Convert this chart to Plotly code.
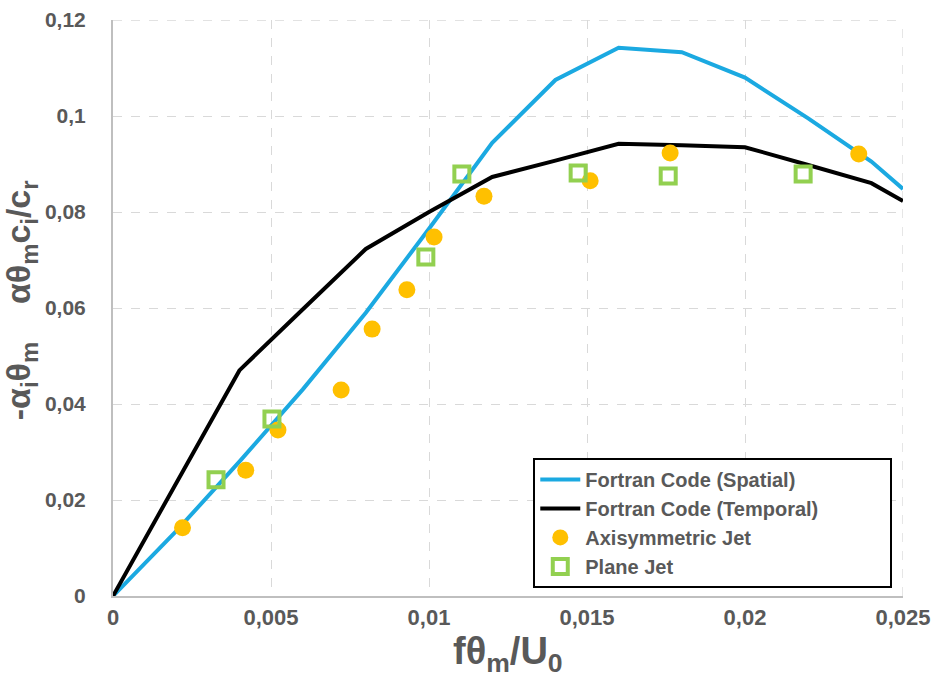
import plotly.graph_objects as go

# Fortran code (spatial)
spatial_x = [0, 0.002, 0.004, 0.006, 0.008, 0.010, 0.012, 0.014, 0.016, 0.018, 0.020, 0.022, 0.024, 0.025]
spatial_y = [0, 0.0135, 0.028, 0.043, 0.059, 0.0765, 0.0944, 0.1075, 0.1142, 0.1133, 0.108, 0.0995, 0.0905, 0.0848]

# Fortran code (temporal)
temporal_x = [0, 0.004, 0.006, 0.008, 0.010, 0.012, 0.014, 0.016, 0.018, 0.020, 0.022, 0.024, 0.025]
temporal_y = [0, 0.047, 0.0597, 0.0723, 0.0800, 0.0873, 0.0907, 0.0942, 0.0939, 0.0935, 0.0898, 0.0860, 0.0823]

# Axisymmetric jet
axi_x = [0.0022, 0.0042, 0.00522, 0.00722, 0.0082, 0.0093, 0.01016, 0.01174, 0.0151, 0.01763, 0.0236]
axi_y = [0.0142, 0.0262, 0.0346, 0.0429, 0.0556, 0.0638, 0.0748, 0.0833, 0.0865, 0.0923, 0.0921]

# Plane jet
plane_x = [0.00326, 0.00503, 0.0099, 0.01104, 0.01472, 0.01757, 0.02184]
plane_y = [0.0242, 0.0369, 0.0706, 0.0879, 0.0881, 0.0875, 0.0879]

series_names = ["Fortran Code (Spatial)", "Fortran Code (Temporal)", "Axisymmetric Jet", "Plane Jet"]

x_tickvals = [0, 0.005, 0.01, 0.015, 0.02, 0.025]
x_ticktext = ["0", "0,005", "0,01", "0,015", "0,02", "0,025"]
y_tickvals = [0, 0.02, 0.04, 0.06, 0.08, 0.1, 0.12]
y_ticktext = ["0", "0,02", "0,04", "0,06", "0,08", "0,1", "0,12"]

x_title = "fθ<sub>m</sub>/U<sub>0</sub>"
y_title = "-α<sub>i</sub>θ<sub>m</sub>    αθ<sub>m</sub>c<sub>i</sub>/c<sub>r</sub>"

GRAY = "#595959"
FONT = "Liberation Sans, Arial, sans-serif"
NARROW = "Liberation Sans Narrow, Arial Narrow, Liberation Sans, sans-serif"
PAD = "\u00a0" * 12


def b(s):
    return "<b>" + s + "</b>"


fig = go.Figure()
fig.add_trace(go.Scatter(x=spatial_x, y=spatial_y, mode="lines", name=b(series_names[0]),
                         line=dict(color="#1BA9E1", width=4)))
fig.add_trace(go.Scatter(x=temporal_x, y=temporal_y, mode="lines", name=b(series_names[1]) + PAD,
                         line=dict(color="#000000", width=4)))
fig.add_trace(go.Scatter(x=axi_x, y=axi_y, mode="markers", name=b(series_names[2]),
                         marker=dict(symbol="circle", size=17, color="#FFC000", line=dict(width=0))))
fig.add_trace(go.Scatter(x=plane_x, y=plane_y, mode="markers", name=b(series_names[3]),
                         marker=dict(symbol="square-open", size=15, color="#92D050",
                                     line=dict(width=4, color="#92D050"))))

fig.update_layout(
    width=931, height=681,
    margin=dict(l=113, r=28, t=20, b=85),
    plot_bgcolor="white", paper_bgcolor="white",
    font=dict(family=FONT, color=GRAY),
    showlegend=True,
    legend=dict(
        x=0.532, y=0.014, xanchor="left", yanchor="bottom",
        bgcolor="white", bordercolor="black", borderwidth=2,
        font=dict(family=FONT, size=20, color=GRAY),
        tracegroupgap=0, itemwidth=40,
    ),
    xaxis=dict(
        range=[0, 0.025], tickvals=x_tickvals, ticktext=[b(t) for t in x_ticktext],
        showgrid=True, gridcolor="#D9D9D9", griddash="dash", gridwidth=1.3,
        showline=True, linecolor="#BFBFBF", linewidth=2, zeroline=False,
        ticks="", ticklabelstandoff=1, ticklabeloverflow="allow", automargin=False,
        tickfont=dict(family=NARROW, size=22, color=GRAY),
    ),
    yaxis=dict(
        range=[0, 0.12], tickvals=y_tickvals, ticktext=[b(t) for t in y_ticktext],
        showgrid=True, gridcolor="#D9D9D9", griddash="dash", gridwidth=1.3,
        showline=True, linecolor="#BFBFBF", linewidth=2, zeroline=False,
        ticks="", ticklabelstandoff=21, automargin=False,
        tickfont=dict(family=FONT, size=21, color=GRAY),
    ),
    annotations=[
        dict(text=b(x_title), xref="paper", yref="paper", x=0.5, y=-0.056,
             xanchor="center", yanchor="top", showarrow=False,
             font=dict(family=NARROW, size=38, color=GRAY)),
        dict(text=b(y_title), xref="paper", yref="paper", x=-0.116, y=0.514,
             xanchor="center", yanchor="middle", textangle=-90, showarrow=False,
             font=dict(family=FONT, size=34, color=GRAY)),
    ],
)

# dashed gridlines at right and top edges
fig.add_shape(type="line", xref="x", yref="paper", x0=0.025, x1=0.025, y0=0, y1=1,
              line=dict(color="#D9D9D9", width=1.3, dash="dash"), layer="below")
fig.add_shape(type="line", xref="paper", yref="y", x0=0, x1=1, y0=0.12, y1=0.12,
              line=dict(color="#D9D9D9", width=1.3, dash="dash"), layer="below")

fig.write_html("out.html")
